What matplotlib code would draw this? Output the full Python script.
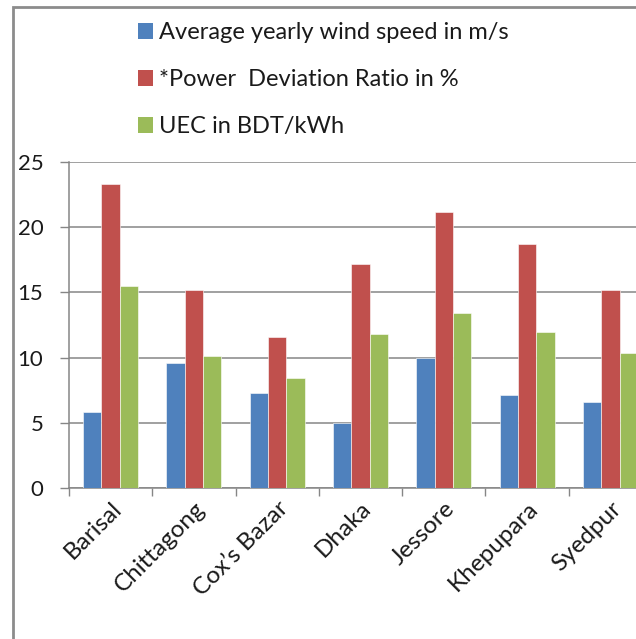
import numpy as np
import matplotlib
matplotlib.use("Agg")
from matplotlib import pyplot as plt
from matplotlib.patches import Rectangle, Patch

plt.rcParams["font.family"] = ["Lato", "DejaVu Sans"]

stations = ["Barisal", "Chittagong", "Cox\u2019s Bazar", "Dhaka", "Jessore", "Khepupara", "Syedpur"]
wind_speed = [5.8, 9.55, 7.3, 5.0, 10.0, 7.1, 6.6]
power_dev = [23.3, 15.15, 11.6, 17.2, 21.2, 18.7, 15.2]
uec = [15.5, 10.1, 8.45, 11.8, 13.4, 12.0, 10.35]

series_names = [
    "Average yearly wind speed in m/s",
    "*Power  Deviation Ratio in %",
    "UEC in BDT/kWh",
]
colors = ["#4f81bd", "#c0504d", "#9bbb59"]
grid_col = "#868686"
txt_col = "#1a1a1a"

fig = plt.figure(figsize=(6.36, 6.39), dpi=100)
ax = fig.add_axes([69 / 636, 151 / 639, 583 / 636, 326 / 639])

x = np.arange(len(stations))
w = 0.22
for i, (vals, c) in enumerate(zip([wind_speed, power_dev, uec], colors)):
    ax.bar(x + (i - 1) * w, vals, width=w, color=c, edgecolor="white",
           linewidth=0.4, zorder=3)

ax.set_xlim(-0.5, len(stations) - 0.5)
ax.set_ylim(0, 25)
ax.set_yticks(range(0, 26, 5))
ax.yaxis.grid(True, color=grid_col, linewidth=1.1, zorder=0)
ax.tick_params(axis="y", length=6.5, width=1, color=grid_col, pad=12,
               labelsize=16, labelcolor=txt_col)

ax.set_xticks(x)
ax.set_xticklabels(stations, rotation=45, ha="right", rotation_mode="anchor",
                   fontsize=17.5, color=txt_col)
ax.set_xticks(np.arange(-0.5, len(stations), 1), minor=True)
ax.tick_params(axis="x", which="major", length=0, pad=7)
ax.tick_params(axis="x", which="minor", length=5.8, width=1, color=grid_col)

for s in ["top", "right"]:
    ax.spines[s].set_visible(False)
for s in ["left", "bottom"]:
    ax.spines[s].set_color(grid_col)
    ax.spines[s].set_linewidth(1.1)

# outer chart frame, cut off at right and bottom
fig.patches.append(Rectangle((13 / 636, -0.1), 1.2, 1 - 7 / 639 + 0.1,
                             transform=fig.transFigure, fill=False,
                             edgecolor="#8c8c8c", linewidth=2))

handles = [Patch(facecolor=c, edgecolor="none") for c in colors]
fig.legend(handles, series_names, loc="upper left",
           bbox_to_anchor=(117 / 636, 1 - 1 / 639), frameon=False,
           fontsize=17, labelspacing=1.1, handlelength=0.63, handleheight=0.63,
           handletextpad=0.26, labelcolor=txt_col)

fig.savefig("out.png", dpi=100)
